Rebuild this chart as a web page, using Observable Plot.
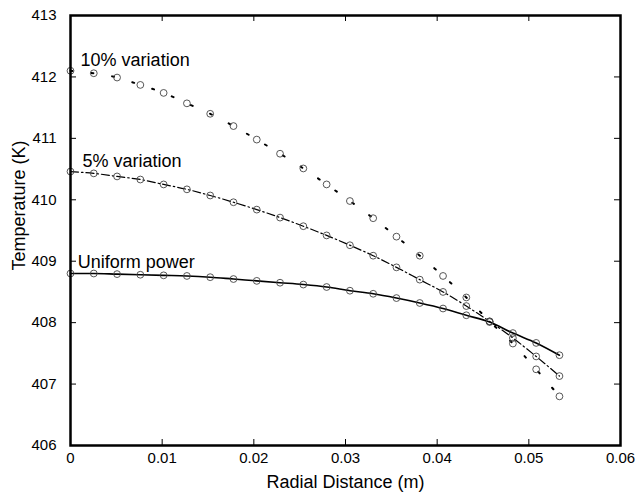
<!DOCTYPE html>
<html>
<head>
<meta charset="utf-8">
<script src="https://cdn.jsdelivr.net/npm/d3@7"></script>
<script src="https://cdn.jsdelivr.net/npm/@observablehq/plot@0.6"></script>
<style>
  html, body { margin: 0; padding: 0; background: #fff; }
  #chart svg { display: block; }
</style>
</head>
<body>
<div id="chart"></div>
<script>
// Radial positions (m)
const radialDistance = [0, 0.00254, 0.00508, 0.00762, 0.01016, 0.0127, 0.01524, 0.01778, 0.02032, 0.02286, 0.0254,
  0.02794, 0.03048, 0.03302, 0.03556, 0.0381, 0.04064, 0.04318, 0.04572, 0.04826, 0.0508, 0.05334];

// Temperatures (K)
const uniformPower = [408.80, 408.80, 408.79, 408.78, 408.77, 408.76, 408.74, 408.71, 408.68, 408.65, 408.62,
  408.58, 408.52, 408.47, 408.40, 408.32, 408.23, 408.12, 408.01, 407.83, 407.67, 407.47];
const variation5 = [410.46, 410.43, 410.38, 410.33, 410.25, 410.17, 410.07, 409.96, 409.84, 409.71, 409.57,
  409.42, 409.26, 409.09, 408.90, 408.70, 408.50, 408.27, 408.02, 407.75, 407.45, 407.13];
const variation10 = [412.10, 412.06, 411.99, 411.87, 411.74, 411.57, 411.40, 411.20, 410.98, 410.75, 410.51,
  410.25, 409.98, 409.70, 409.40, 409.09, 408.76, 408.41, 408.02, 407.66, 407.24, 406.80];

// Annotations
const labelText = ["10% variation", "5% variation", "Uniform power"];
const labelX = [0.0011, 0.0013, 0.0008];
const labelY = [412.27, 410.62, 408.99];

// Axis titles
const xTitle = "Radial Distance (m)";
const yTitle = "Temperature (K)";

// Ticks
const xTicks = [0, 0.01, 0.02, 0.03, 0.04, 0.05, 0.06];
const xTickLabels = ["0", "0.01", "0.02", "0.03", "0.04", "0.05", "0.06"];
const yTicks = [406, 407, 408, 409, 410, 411, 412, 413];
const yTickLabels = ["406", "407", "408", "409", "410", "411", "412", "413"];

const rows = (vals, name) => radialDistance.map((x, i) => ({x, T: vals[i], series: name}));
const uRows = rows(uniformPower, "Uniform power");
const v5Rows = rows(variation5, "5% variation");
const v10Rows = rows(variation10, "10% variation");
const allRows = [...uRows, ...v5Rows, ...v10Rows];
const labels = labelText.map((t, i) => ({t, x: labelX[i], y: labelY[i]}));

const font = "'Liberation Sans', Arial, Helvetica, sans-serif";

const chart = Plot.plot({
  width: 638,
  height: 492,
  marginLeft: 70,
  marginRight: 18,
  marginTop: 15,
  marginBottom: 47,
  style: {fontFamily: font, fontSize: "15px", color: "#000", background: "#fff"},
  x: {domain: [0, 0.06]},
  y: {domain: [406, 413]},
  marks: [
    // inward tick marks on all four sides
    Plot.ruleX(xTicks, {x: d => d, insetTop: 424, stroke: "#000", strokeWidth: 1}),
    Plot.ruleX(xTicks, {x: d => d, insetBottom: 424, stroke: "#000", strokeWidth: 1}),
    Plot.ruleY(yTicks, {y: d => d, insetRight: 544, stroke: "#000", strokeWidth: 1}),
    Plot.ruleY(yTicks, {y: d => d, insetLeft: 544, stroke: "#000", strokeWidth: 1}),
    Plot.line(uRows, {x: "x", y: "T", curve: "monotone-x", stroke: "#000", strokeWidth: 1.6}),
    Plot.line(v5Rows, {x: "x", y: "T", curve: "monotone-x", stroke: "#000", strokeWidth: 1.2, strokeDasharray: "8,3,1.5,3"}),
    Plot.line(v10Rows, {x: "x", y: "T", curve: "monotone-x", stroke: "#000", strokeWidth: 2, strokeDasharray: "2,19"}),
    Plot.dot(allRows, {x: "x", y: "T", r: 3.4, stroke: "#444", strokeWidth: 0.9, fill: "none"}),
    Plot.text(labels, {x: "x", y: "y", text: "t", textAnchor: "start", fontSize: 18, fill: "#000"}),
    Plot.frame({stroke: "#000", strokeWidth: 2.5}),
    Plot.axisX(xTicks, {anchor: "bottom", tickSize: 0, tickPadding: 7, fontSize: 15,
      tickFormat: (d, i) => xTickLabels[i],
      label: xTitle, labelAnchor: "center", labelArrow: "none", labelOffset: 42}),
    Plot.axisY(yTicks, {anchor: "left", tickSize: 0, tickPadding: 14, fontSize: 15,
      tickFormat: (d, i) => yTickLabels[i],
      label: yTitle, labelAnchor: "center", labelArrow: "none", labelOffset: 58})
  ]
});

// Axis title size; nudge the y title upward as in the reference
chart.querySelectorAll("[aria-label='x-axis label'] text, [aria-label='y-axis label'] text").forEach(t => {
  t.setAttribute("font-size", "18");
});
chart.querySelectorAll("[aria-label='y-axis label']").forEach(g => {
  const prev = g.getAttribute("transform") || "";
  g.setAttribute("transform", (prev + " translate(0,-25)").trim());
});
document.getElementById("chart").appendChild(chart);
</script>
</body>
</html>
